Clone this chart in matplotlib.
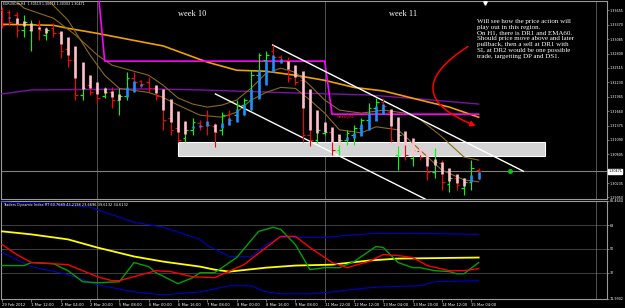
import matplotlib
matplotlib.use("Agg")
import matplotlib.pyplot as plt
import matplotlib.transforms as mtransforms
from matplotlib.patches import Rectangle, FancyArrowPatch
import numpy as np

# ---------------- data ----------------
opens = [1.3366,1.3362,1.3356,1.3326,1.3326,1.3338,1.3316,1.3330,1.3320,1.3290,
         1.3267,1.3197,1.3217,1.3207,1.3195,1.3203,1.3188,1.3195,1.3231,1.3225,
         1.3223,1.3211,1.3195,1.3152,1.3133,1.3113,1.3129,1.3142,1.3158,1.3136,
         1.3129,1.3158,1.3158,1.3178,1.3188,1.3237,1.3267,1.3286,1.3273,1.3267,
         1.3243,1.3227,1.3119,1.3109,1.3123,1.3125,1.3089,1.3109,1.3119,1.3133,
         1.3148,1.3172,1.3184,1.3164,1.3079,1.3119,1.3073,1.3087,1.3073,1.3045,
         1.3063,1.3022,1.3034,1.3014,1.3026,1.3049]
highs = [1.3372,1.3366,1.3362,1.3356,1.3346,1.3346,1.3332,1.3340,1.3322,1.3302,
         1.3277,1.3243,1.3227,1.3217,1.3213,1.3213,1.3211,1.3243,1.3243,1.3227,
         1.3233,1.3213,1.3203,1.3178,1.3152,1.3133,1.3152,1.3148,1.3168,1.3142,
         1.3164,1.3168,1.3188,1.3193,1.3247,1.3282,1.3286,1.3296,1.3277,1.3273,
         1.3251,1.3241,1.3188,1.3148,1.3129,1.3129,1.3119,1.3129,1.3138,1.3152,
         1.3182,1.3193,1.3193,1.3168,1.3144,1.3125,1.3093,1.3089,1.3079,1.3093,
         1.3069,1.3049,1.3034,1.3034,1.3069,1.3053]
lows = [1.3330,1.3336,1.3312,1.3312,1.3286,1.3306,1.3306,1.3312,1.3271,1.3253,
        1.3188,1.3188,1.3197,1.3182,1.3193,1.3172,1.3158,1.3188,1.3207,1.3211,
        1.3203,1.3188,1.3129,1.3119,1.3105,1.3105,1.3119,1.3129,1.3119,1.3095,
        1.3119,1.3138,1.3154,1.3158,1.3168,1.3197,1.3237,1.3257,1.3261,1.3223,
        1.3217,1.3105,1.3097,1.3103,1.3119,1.3079,1.3079,1.3099,1.3099,1.3129,
        1.3148,1.3158,1.3168,1.3105,1.3049,1.3069,1.3057,1.3069,1.3030,1.3034,
        1.3010,1.3006,1.3010,1.3000,1.3010,1.3030]
closes = [1.3336,1.3342,1.3326,1.3342,1.3338,1.3326,1.3326,1.3320,1.3286,1.3267,
          1.3197,1.3211,1.3203,1.3192,1.3203,1.3188,1.3195,1.3231,1.3223,1.3219,
          1.3211,1.3195,1.3148,1.3129,1.3109,1.3129,1.3144,1.3136,1.3138,1.3125,
          1.3158,1.3148,1.3178,1.3188,1.3237,1.3277,1.3277,1.3273,1.3267,1.3231,
          1.3223,1.3119,1.3109,1.3129,1.3125,1.3089,1.3109,1.3123,1.3133,1.3148,
          1.3172,1.3184,1.3176,1.3109,1.3119,1.3079,1.3089,1.3075,1.3045,1.3065,
          1.3026,1.3034,1.3020,1.3026,1.3053,1.3047]

current_price = 1.30471

ema_idx = [0, 7, 9, 13, 18, 22, 28, 32, 36, 40, 44, 48, 52, 57, 61, 65]
ema_val = [1.3338, 1.3336, 1.3330, 1.3320, 1.3306, 1.3295, 1.3263, 1.3247, 1.3245,
           1.3237, 1.3227, 1.3213, 1.3206, 1.3188, 1.3174, 1.3154]

purple_idx = [0, 4, 20, 27, 40, 50, 57, 65]
purple_val = [1.3200, 1.3208, 1.3210, 1.3208, 1.3202, 1.3198, 1.3190, 1.3180]

brownA_idx = [1, 3, 7, 10, 13, 15, 18, 20, 22, 24, 26, 28, 30, 32, 34, 36, 38, 40,
              42, 44, 46, 49, 52, 55, 57, 60, 63, 65]
brownA_val = [1.3396, 1.3370, 1.3350, 1.3317, 1.3277, 1.3257, 1.3245, 1.3237, 1.3217,
              1.3192, 1.3180, 1.3174, 1.3178, 1.3188, 1.3212, 1.3241, 1.3251, 1.3243,
              1.3217, 1.3188, 1.3168, 1.3162, 1.3168, 1.3162, 1.3150, 1.3115, 1.3075, 1.3069]

brownB_idx = [6, 9, 12, 14, 16, 18, 20, 22, 24, 27, 30, 32, 34, 36, 38, 40, 42, 44,
              46, 49, 51, 54, 57, 60, 63, 65]
brownB_val = [1.3390, 1.3346, 1.3277, 1.3237, 1.3211, 1.3207, 1.3203, 1.3193, 1.3178,
              1.3158, 1.3154, 1.3164, 1.3188, 1.3203, 1.3213, 1.3211, 1.3188, 1.3162,
              1.3129, 1.3123, 1.3135, 1.3129, 1.3089, 1.3049, 1.3030, 1.3026]

# weekly level (magenta step)
week_level_bars = [0, 14, 45]
week_levels = [1.3420, 1.3265, 1.3160]

week_start_idx = [13, 44]
shift_line_idx = 81

zone_x = (24.0, 74.1)
zone_p = (1.3078, 1.3105)

chan_upper = ((36.9, 1.3297), (71.1, 1.3047))
chan_lower = ((29.1, 1.3200), (57.7, 1.2992))

# TDI
tdi_up_idx = [0, 7, 12, 18, 22, 27, 28, 31, 34, 36, 38, 44, 47, 51, 57, 65]
tdi_up_val = [85.6, 84.1, 81.8, 70.3, 66.5, 57.3, 52.7, 44.3, 44.3, 53.4, 58.8, 58.8,
              60.3, 61.9, 61.9, 61.1]
tdi_lo_idx = [0, 4, 9, 13, 18, 22, 27, 31, 34, 36, 38, 42, 45, 50, 52, 57, 59, 65]
tdi_lo_val = [47.3, 36.6, 30.5, 22.8, 17.4, 15.1, 17.4, 22.0, 22.0, 17.4, 15.9, 15.9,
              17.4, 20.5, 21.3, 22.0, 25.1, 25.9]
tdi_mid_idx = [0, 4, 9, 13, 18, 22, 27, 29, 31, 36, 40, 45, 50, 54, 65]
tdi_mid_val = [63.4, 61.1, 57.3, 51.1, 44.3, 40.4, 36.6, 34.3, 32.8, 35.8, 37.4, 38.1,
               41.2, 42.7, 43.5]
tdi_sig_idx = [0, 2, 4, 9, 13, 15, 16, 19, 21, 23, 26, 29, 33, 36, 38, 40, 42, 45, 47,
               50, 52, 54, 56, 58, 61, 63, 65]
tdi_sig_val = [53.4, 45.8, 39.7, 38.1, 28.9, 25.9, 25.9, 30.5, 33.5, 32.8, 28.9, 28.2,
               38.1, 51.1, 59.6, 59.6, 51.1, 39.7, 35.8, 40.4, 45.8, 45.0, 43.5, 37.4,
               33.5, 33.5, 35.1]
tdi_rsi_idx = [0, 3, 4, 7, 9, 11, 13, 16, 18, 20, 21, 24, 26, 27, 29, 32, 35, 37, 38,
               40, 42, 44, 46, 48, 51, 52, 54, 56, 57, 59, 61, 62, 63, 65]
tdi_rsi_val = [37.4, 37.4, 39.7, 38.9, 33.5, 25.1, 24.3, 25.1, 39.7, 36.6, 32.0, 23.6,
               28.2, 32.0, 32.0, 43.5, 63.4, 66.5, 64.9, 53.4, 34.3, 35.8, 35.8, 40.4,
               51.9, 51.1, 39.7, 35.8, 35.8, 33.5, 32.8, 31.2, 31.2, 39.7]
tdi_levels = [68, 50, 32]

# 1.30520 is hidden behind the current-price label in the reference
price_ticks = [1.29950, 1.30235, 1.30805, 1.31090, 1.31375, 1.31660,
               1.31945, 1.32230, 1.32515, 1.32800, 1.33085, 1.33370, 1.33655]
tdi_ticks = [11.9902, 32, 50, 68, 86.4644]
tdi_tick_labels = ["11.9902", "32", "50", "68", "86.4644"]

date_idx = list(range(0, 65, 4))
date_labels = ["29 Feb 2012", "1 Mar 12:00", "2 Mar 04:00", "2 Mar 20:00", "5 Mar 08:00",
               "6 Mar 00:00", "6 Mar 16:00", "7 Mar 08:00", "8 Mar 00:00", "8 Mar 16:00",
               "9 Mar 08:00", "11 Mar 22:00", "12 Mar 12:00", "13 Mar 04:00",
               "13 Mar 20:00", "14 Mar 12:00", "15 Mar 04:00"]

title_main = "EURUSDm,H4  1.30519 1.30674 1.30303 1.30471"
title_tdi = "Traders Dynamic Index RT 60.7689 43.2198 23.6696 39.6132 34.6132"
note = ("Will see how the price action will\nplay out in this region.\n"
        "On H1, there is DR1 and EMA60.\nShould price move above and later\n"
        "pullback, then a sell at DR1 with\nSL at DR2 would be one possible\n"
        "trade, targetting DP and DS1.")

# ---------------- figure ----------------
W, H = 625, 308
fig = plt.figure(figsize=(W / 100, H / 100), dpi=100, facecolor="black")


def fx(px):
    return px / W


def fy(py):
    return 1 - py / H


ax = fig.add_axes([fx(1), fy(199), 606 / W, 198 / H])
ax2 = fig.add_axes([fx(1), fy(299), 606 / W, 98 / H])

for a in (ax, ax2):
    a.set_facecolor("black")
    for s in a.spines.values():
        s.set_color("#9a9a9a")
        s.set_linewidth(0.8)
    a.set_xlim(-0.14, 82.5)
    a.yaxis.tick_right()
    a.tick_params(axis="y", colors="#9a9a9a", labelcolor="white", labelsize=2.4,
                  length=1.5, width=0.5, pad=0.6)
    for xi in week_start_idx + [shift_line_idx]:
        a.axvline(xi, color="#c0c0c0", ls=(0, (1.2, 1.2)), lw=0.6, zorder=1)

ax.set_ylim(1.2992, 1.33841)
ax.set_xticks([])
ax.set_yticks(price_ticks)
ax.set_yticklabels(["%.5f" % p for p in price_ticks])

# zone box
ax.add_patch(Rectangle((zone_x[0], zone_p[0]), zone_x[1] - zone_x[0], zone_p[1] - zone_p[0],
                       facecolor="#d4d4d4", edgecolor="white", lw=0.8, zorder=2))

# indicator lines
ax.plot(purple_idx, purple_val, color="#7a12a8", lw=1.0, zorder=3)
ax.plot(ema_idx, ema_val, color="#f0a000", lw=1.2, zorder=3)
ax.plot(brownA_idx, brownA_val, color="#8a6a1a", lw=0.8, zorder=3)
ax.plot(brownB_idx, brownB_val, color="#8a6a1a", lw=0.8, zorder=3)

mag_x, mag_y = [], []
n = len(opens)
for k in range(n):
    lvl = week_levels[0]
    for b, v in zip(week_level_bars, week_levels):
        if k >= b:
            lvl = v
    mag_x.append(k)
    mag_y.append(lvl)
ax.plot(mag_x, mag_y, color="#ff00ff", lw=1.2, zorder=3)

# channel lines
for (p0, p1) in (chan_upper, chan_lower):
    ax.plot([p0[0], p1[0]], [p0[1], p1[1]], color="white", lw=1.0, zorder=3)

# current price line
ax.axhline(current_price, color="#808080", lw=0.8, zorder=1)

# OHLC bars
x = np.arange(n)
o, h, l, c = map(np.array, (opens, highs, lows, closes))
bar_col = np.where(c >= o, "#00ff00", "#ff0000")
ax.vlines(x, l, h, colors=bar_col, lw=0.8, zorder=4)
ax.hlines(o, x - 0.35, x, colors=bar_col, lw=0.8, zorder=4)
ax.hlines(c, x, x + 0.35, colors=bar_col, lw=0.8, zorder=4)

# Heiken Ashi bodies
ha_c = (o + h + l + c) / 4
ha_o = np.empty_like(o)
ha_o[0] = (o[0] + c[0]) / 2
for k in range(1, n):
    ha_o[k] = (ha_o[k - 1] + ha_c[k - 1]) / 2
ha_col = np.where(ha_c >= ha_o, "#1e90ff", "#ffc0cb")
ax.vlines(x, ha_o, ha_c, colors=ha_col, lw=1.9, zorder=5)

# green dot
ax.plot([69.3], [current_price], "o", color="#00d000", ms=2.5, zorder=6)

# red arrow
arr = FancyArrowPatch((63.85, 1.3297), (64.94, 1.3135), connectionstyle="arc3,rad=1.0",
                      arrowstyle="-|>,head_length=3,head_width=1.6", color="#ff0000",
                      lw=1.1, zorder=6)
ax.add_patch(arr)

# current price label
trans = mtransforms.blended_transform_factory(ax.transAxes, ax.transData)
ax.text(1.002, current_price, "1.30471", transform=trans, fontsize=2.4, color="black",
        va="center", ha="left", zorder=10, clip_on=False,
        bbox=dict(facecolor="white", edgecolor="white", pad=0.3))

# texts
serif = ["Liberation Serif", "DejaVu Serif"]
fig.text(fx(3), fy(2), title_main, fontsize=2.3, color="white", ha="left", va="top")
fig.text(fx(192), fy(14), "week 10", fontsize=6, color="white", ha="center", va="center",
         family=serif)
fig.text(fx(403), fy(14), "week 11", fontsize=6, color="white", ha="center", va="center",
         family=serif)
fig.text(fx(477), fy(19), note, fontsize=5, color="white", ha="left", va="top",
         family=serif, linespacing=1.2)
fig.text(fx(337), fy(117), "WeeklyR1", fontsize=2.6, color="#ff2020", ha="left",
         va="center")
ax.plot([fx(485)], [fy(3)], marker="v", color="white", ms=2.5,
        transform=fig.transFigure, clip_on=False, zorder=10)

# ---------------- TDI ----------------
ax2.set_ylim(11.9902, 86.4644)
for v in tdi_levels:
    ax2.axhline(v, color="#909090", ls=(0, (1.2, 1.2)), lw=0.6, zorder=1)
ax2.plot(tdi_up_idx, tdi_up_val, color="#0000cc", lw=0.8, zorder=3)
ax2.plot(tdi_lo_idx, tdi_lo_val, color="#0000cc", lw=0.8, zorder=3)
ax2.plot(tdi_mid_idx, tdi_mid_val, color="#ffff00", lw=1.3, zorder=3)
ax2.plot(tdi_rsi_idx, tdi_rsi_val, color="#00a000", lw=1.0, zorder=4)
ax2.plot(tdi_sig_idx, tdi_sig_val, color="#ff0000", lw=1.0, zorder=4)
ax2.set_yticks(tdi_ticks)
ax2.set_yticklabels(tdi_tick_labels)
ax2.set_xticks(date_idx)
ax2.set_xticklabels(date_labels, ha="left")
ax2.tick_params(axis="x", colors="#9a9a9a", labelcolor="white", labelsize=2.7,
                length=2, width=0.5, pad=0.8)
fig.text(fx(3), fy(205), title_tdi, fontsize=2.5, color="white", ha="left", va="center")

fig.savefig("out.png", dpi=100, facecolor="black")
